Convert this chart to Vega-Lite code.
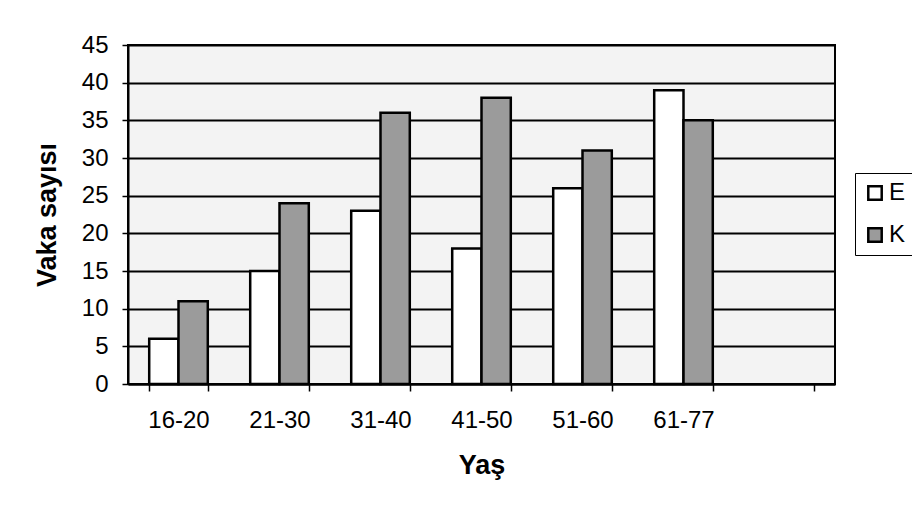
{
  "$schema": "https://vega.github.io/schema/vega-lite/v6.json",
  "width": 707,
  "height": 339,
  "autosize": {"type": "none"},
  "padding": {"left": 128, "top": 45, "right": 77, "bottom": 129},
  "background": "white",
  "data": {
    "values": [
      {"age": "16-20", "sex": "E", "count": 6},
      {"age": "16-20", "sex": "K", "count": 11},
      {"age": "21-30", "sex": "E", "count": 15},
      {"age": "21-30", "sex": "K", "count": 24},
      {"age": "31-40", "sex": "E", "count": 23},
      {"age": "31-40", "sex": "K", "count": 36},
      {"age": "41-50", "sex": "E", "count": 18},
      {"age": "41-50", "sex": "K", "count": 38},
      {"age": "51-60", "sex": "E", "count": 26},
      {"age": "51-60", "sex": "K", "count": 31},
      {"age": "61-77", "sex": "E", "count": 39},
      {"age": "61-77", "sex": "K", "count": 35}
    ]
  },
  "mark": {"type": "bar", "stroke": "black", "strokeWidth": 2.5},
  "encoding": {
    "x": {
      "field": "age",
      "type": "nominal",
      "scale": {
        "domain": ["16-20", "21-30", "31-40", "41-50", "51-60", "61-77", " "],
        "paddingInner": 0.42,
        "paddingOuter": 0.21
      },
      "axis": {
        "title": "Yaş",
        "labelAngle": 0,
        "tickBand": "extent",
        "labelPadding": 17,
        "tickSize": 7,
        "titlePadding": 20
      }
    },
    "xOffset": {"field": "sex", "type": "nominal", "scale": {"paddingInner": 0, "paddingOuter": 0}},
    "y": {
      "field": "count",
      "type": "quantitative",
      "scale": {"domain": [0, 45], "nice": false},
      "axis": {
        "title": "Vaka sayısı",
        "values": [0, 5, 10, 15, 20, 25, 30, 35, 40, 45],
        "grid": true,
        "tickSize": 6,
        "labelPadding": 14,
        "titlePadding": 20
      }
    },
    "fill": {
      "field": "sex",
      "type": "nominal",
      "scale": {"domain": ["E", "K"], "range": ["#ffffff", "#9b9b9b"]},
      "legend": {
        "title": null,
        "orient": "none",
        "legendX": 727,
        "legendY": 128,
        "symbolType": "square",
        "symbolSize": 180,
        "symbolStrokeColor": "black",
        "symbolStrokeWidth": 2.5,
        "labelFont": "Liberation Sans",
        "labelFontSize": 24,
        "labelColor": "black",
        "labelOffset": 2,
        "rowPadding": 18,
        "strokeColor": "black",
        "padding": 8
      }
    }
  },
  "config": {
    "view": {"stroke": "black", "strokeWidth": 2, "fill": "#f3f3f3"},
    "axis": {
      "domainColor": "black",
      "domainWidth": 2,
      "tickColor": "black",
      "tickWidth": 1.5,
      "gridColor": "black",
      "gridWidth": 2,
      "gridOpacity": 1,
      "labelFont": "Liberation Sans",
      "labelFontSize": 24,
      "labelColor": "black",
      "titleFont": "Liberation Sans",
      "titleFontSize": 27,
      "titleFontWeight": "bold",
      "titleColor": "black"
    },
    "axisX": {"grid": false}
  }
}
